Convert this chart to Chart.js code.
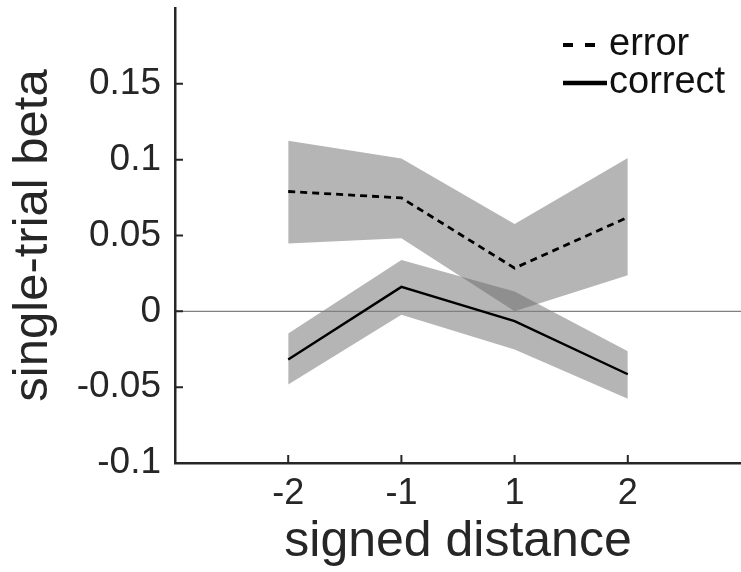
<!DOCTYPE html>
<html>
<head>
<meta charset="utf-8">
<script src="https://cdn.jsdelivr.net/npm/chart.js@4"></script>
<style>
  html, body { margin: 0; padding: 0; background: #fff; }
</style>
</head>
<body>
<canvas id="c" width="741" height="572"></canvas>
<script>
// values
const distances = ['-2', '-1', '1', '2'];
const errorMean = [0.079, 0.0748, 0.0285, 0.062];
const errorUpper = [0.1125, 0.1007, 0.0576, 0.1011];
const errorLower = [0.0448, 0.0482, 0.0, 0.0238];
const correctMean = [-0.0318, 0.0161, -0.0064, -0.0415];
const correctUpper = [-0.0146, 0.0338, 0.013, -0.0263];
const correctLower = [-0.0483, -0.0022, -0.0252, -0.0576];
const yTicks = [-0.1, -0.05, 0, 0.05, 0.1, 0.15];
const yTickLabels = ['-0.1', '-0.05', '0', '0.05', '0.1', '0.15'];

const FONT = '"Liberation Sans", Arial, Helvetica, sans-serif';
const INK = '#262626';
const BAND = 'rgba(100,100,100,0.48)';

const pts = arr => arr.map((v, i) => ({ x: i + 1, y: v }));

// matlab style ticks pointing into the plot
const inwardTicks = {
  id: 'inwardTicks',
  afterDraw(chart) {
    const { ctx, chartArea, scales } = chart;
    ctx.save();
    ctx.strokeStyle = INK;
    ctx.lineWidth = 2;
    ctx.beginPath();
    for (const t of scales.x.ticks) {
      const px = scales.x.getPixelForValue(t.value);
      ctx.moveTo(px, chartArea.bottom);
      ctx.lineTo(px, chartArea.bottom - 8);
    }
    for (const t of scales.y.ticks) {
      const py = scales.y.getPixelForValue(t.value);
      ctx.moveTo(chartArea.left, py);
      ctx.lineTo(chartArea.left + 8, py);
    }
    ctx.stroke();
    ctx.restore();
  }
};

// legend in the top right corner, only for the two mean lines
const cornerLegend = {
  id: 'cornerLegend',
  afterDraw(chart) {
    const ctx = chart.ctx;
    const items = chart.data.datasets.filter(d => d.legendDash);
    ctx.save();
    items.forEach((d, i) => {
      const y = 45 + i * 38;
      ctx.strokeStyle = '#000';
      ctx.lineWidth = i == 0 ? 4 : 4.5;
      ctx.setLineDash(d.legendDash);
      ctx.beginPath();
      ctx.moveTo(563, y);
      ctx.lineTo(i == 0 ? 597 : 607, y);
      ctx.stroke();
      ctx.setLineDash([]);
      ctx.fillStyle = '#111';
      ctx.font = '38px ' + FONT;
      ctx.textBaseline = 'middle';
      ctx.fillText(d.label, 609, y);
    });
    ctx.restore();
  }
};

new Chart(document.getElementById('c'), {
  type: 'line',
  data: {
    datasets: [
      { label: 'error', data: pts(errorMean), borderColor: '#000', borderWidth: 2.8,
        borderDash: [7, 5], pointRadius: 0, fill: false, tension: 0, legendDash: [10, 12] },
      { label: 'correct', data: pts(correctMean), borderColor: '#000', borderWidth: 2.4,
        pointRadius: 0, fill: false, tension: 0, legendDash: [1, 0] },
      { label: 'zero', data: [{ x: 0, y: 0 }, { x: 5, y: 0 }], borderColor: '#808080',
        borderWidth: 1.3, pointRadius: 0, fill: false },
      { label: 'error upper', data: pts(errorUpper), borderWidth: 0, pointRadius: 0,
        backgroundColor: BAND, fill: '+1', tension: 0 },
      { label: 'error lower', data: pts(errorLower), borderWidth: 0, pointRadius: 0,
        fill: false, tension: 0 },
      { label: 'correct upper', data: pts(correctUpper), borderWidth: 0, pointRadius: 0,
        backgroundColor: BAND, fill: '+1', tension: 0 },
      { label: 'correct lower', data: pts(correctLower), borderWidth: 0, pointRadius: 0,
        fill: false, tension: 0 }
    ]
  },
  options: {
    responsive: false,
    animation: false,
    devicePixelRatio: 1,
    layout: { padding: { top: 8, right: 0, left: 0, bottom: 0 } },
    plugins: { legend: { display: false }, tooltip: { enabled: false } },
    scales: {
      x: {
        type: 'linear', min: 0, max: 5,
        afterBuildTicks: s => { s.ticks = distances.map((_, i) => ({ value: i + 1 })); },
        afterFit: s => { s.height = 109; s.paddingLeft = 0; s.paddingRight = 0; },
        ticks: {
          callback: (v, i) => distances[i],
          font: { family: FONT, size: 36 }, color: INK, padding: 9,
          maxRotation: 0, autoSkip: false
        },
        grid: { display: false, drawTicks: false },
        border: { display: true, color: INK, width: 2.5 },
        title: { display: true, text: 'signed distance', color: INK,
          font: { family: FONT, size: 50 }, padding: 0 }
      },
      y: {
        min: -0.1, max: 0.2,
        afterBuildTicks: s => { s.ticks = yTicks.map(v => ({ value: v })); },
        afterFit: s => { s.width = 175; s.paddingTop = 0; s.paddingBottom = 0; },
        ticks: {
          callback: (v, i) => yTickLabels[i],
          font: { family: FONT, size: 37 }, color: INK, padding: 14
        },
        grid: { display: false, drawTicks: false },
        border: { display: true, color: INK, width: 2.5 },
        title: { display: true, text: 'single-trial beta', color: INK,
          font: { family: FONT, size: 49 }, padding: { top: 4, bottom: 0 } }
      }
    }
  },
  plugins: [inwardTicks, cornerLegend]
});
</script>
</body>
</html>
